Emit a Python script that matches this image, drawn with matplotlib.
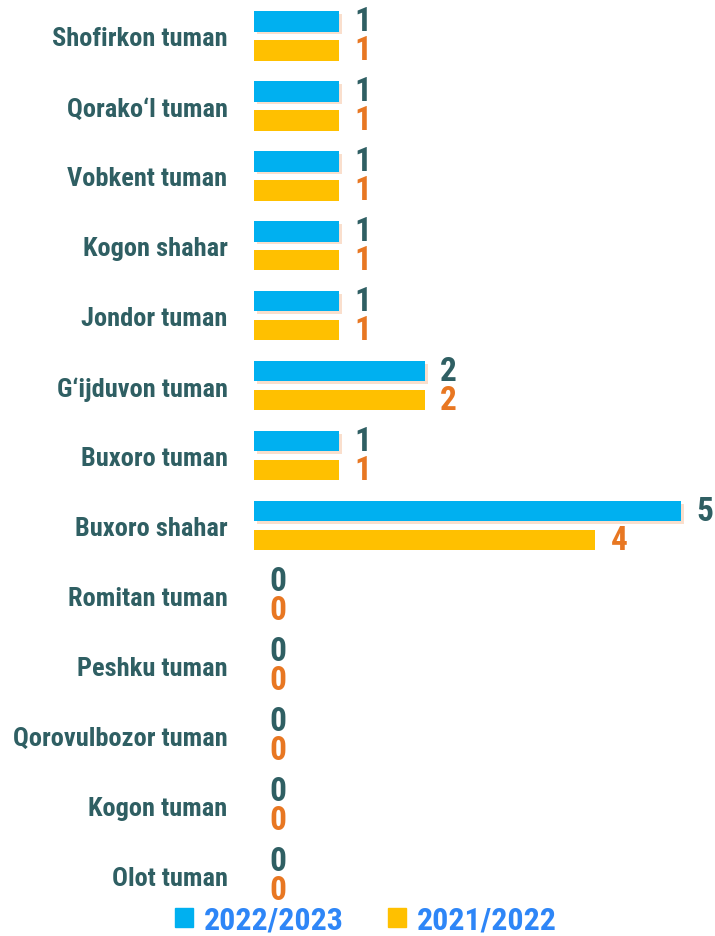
import matplotlib
matplotlib.use("Agg")
import matplotlib.pyplot as plt
import matplotlib.patheffects as pe
from matplotlib.patches import Patch
from matplotlib import font_manager

# --- DATOS ---
categories = [
    "Shofirkon tuman", "Qorako\u2018l tuman", "Vobkent tuman", "Kogon shahar",
    "Jondor tuman", "G\u2018ijduvon tuman", "Buxoro tuman", "Buxoro shahar",
    "Romitan tuman", "Peshku tuman", "Qorovulbozor tuman", "Kogon tuman",
    "Olot tuman",
]
values_2022_2023 = [1, 1, 1, 1, 1, 2, 1, 5, 0, 0, 0, 0, 0]
values_2021_2022 = [1, 1, 1, 1, 1, 2, 1, 4, 0, 0, 0, 0, 0]
series_labels = ["2022/2023", "2021/2022"]

BLUE = "#00B0F0"
YELLOW = "#FFC000"
LABEL_DARK = "#2F5F63"
LABEL_ORANGE = "#E87722"
LEGEND_TEXT = "#2E86F7"

# fuente condensada si existe, si no Roboto
family = "Roboto"
for cand in ["Roboto Condensed", "Liberation Sans Narrow"]:
    try:
        font_manager.findfont(cand, fallback_to_default=False)
        family = cand
        break
    except Exception:
        pass
plt.rcParams["font.family"] = [family, "DejaVu Sans"]
plt.rcParams["font.weight"] = "bold"

W, H = 715, 937
fig = plt.figure(figsize=(W / 100, H / 100), dpi=100)

left_px, top_px, bottom_px = 254, 2.0, 911.5
ax = fig.add_axes([left_px / W, (H - bottom_px) / H, (W - left_px) / W, (bottom_px - top_px) / H])

y = list(range(len(categories)))
bar_h = 0.29
off = 0.207
shadow = [pe.SimplePatchShadow(offset=(2, -2), shadow_rgbFace="#F8CBAD", alpha=0.6), pe.Normal()]

b1 = ax.barh([i - off for i in y], values_2022_2023, height=bar_h, color=BLUE, zorder=3)
b2 = ax.barh([i + off for i in y], values_2021_2022, height=bar_h, color=YELLOW, zorder=3)
for p in b1:
    p.set_path_effects(shadow)

val_fs = 24
for i, v in enumerate(values_2022_2023):
    ax.annotate(str(v), (v, i - off), xytext=(11, 0), textcoords="offset points",
                ha="left", va="center", fontsize=val_fs, fontweight="bold", color=LABEL_DARK)
for i, v in enumerate(values_2021_2022):
    ax.annotate(str(v), (v, i + off), xytext=(11, 0), textcoords="offset points",
                ha="left", va="center", fontsize=val_fs, fontweight="bold", color=LABEL_ORANGE)

ax.set_xlim(0, 5.40)
ax.set_ylim(len(categories) - 0.5, -0.5)
ax.set_yticks(y)
ax.set_yticklabels(categories, fontsize=19, fontweight="bold", color=LABEL_DARK,
                   va="center_baseline")
ax.tick_params(axis="y", length=0, pad=19)
ax.set_xticks([])
for s in ax.spines.values():
    s.set_visible(False)

handles = [Patch(color=BLUE), Patch(color=YELLOW)]
leg = fig.legend(handles, series_labels, loc="center", bbox_to_anchor=(0.512, 0.0175),
                 ncol=2, frameon=False, fontsize=23, labelcolor=LEGEND_TEXT,
                 handlelength=0.55, handleheight=0.55, handletextpad=0.35,
                 columnspacing=1.4, borderpad=0)
for t in leg.get_texts():
    t.set_fontweight("bold")

fig.savefig("out.png", dpi=100)
